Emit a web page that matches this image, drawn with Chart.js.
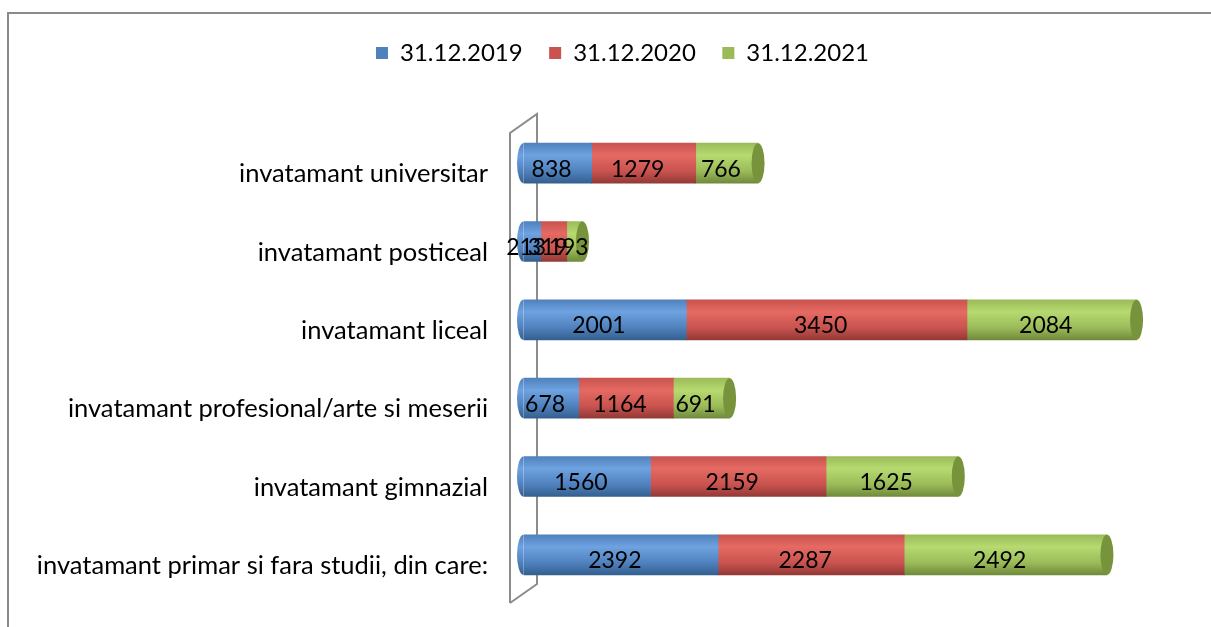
<!DOCTYPE html>
<html>
<head>
<meta charset="utf-8">
<script src="https://cdn.jsdelivr.net/npm/chart.js@4.4.1/dist/chart.umd.min.js"></script>
<style>
  html, body { margin: 0; padding: 0; background: #fff; overflow: hidden; }
  #wrap { width: 1211px; height: 627px; position: relative; }
</style>
</head>
<body>
<div id="wrap"><canvas id="edu-chart"></canvas></div>
<script>
// categories, top to bottom as in the picture
const categories = [
  'invatamant universitar',
  'invatamant posticeal',
  'invatamant liceal',
  'invatamant profesional/arte si meserii',
  'invatamant gimnazial',
  'invatamant primar si fara studii, din care:'
];
const seriesLabels = ['31.12.2019', '31.12.2020', '31.12.2021'];
const values2019 = [838, 213, 2001, 678, 1560, 2392];
const values2020 = [1279, 319, 3450, 1164, 2159, 2287];
const values2021 = [766, 193, 2084, 691, 1625, 2492];

const FONT = 'Lato';
const palette = [
  { base: '#4f81bd', light: '#6ea2e0', dark: '#34608f' },
  { base: '#c9534f', light: '#e56a63', dark: '#933936' },
  { base: '#9bbb59', light: '#b6da70', dark: '#708a3c' }
];
const capColor = '#77933c';

// vertical gradient so the bars look like cylinders
function cylinderFill(c, i) {
  const chart = c.chart;
  const y = chart.scales && chart.scales.y;
  if (!chart.chartArea || !y || c.dataIndex === undefined) return palette[i].base;
  const cy = y.getPixelForValue(c.dataIndex);
  const g = chart.ctx.createLinearGradient(0, cy - 20, 0, cy + 20);
  g.addColorStop(0, palette[i].base);
  g.addColorStop(0.3, palette[i].light);
  g.addColorStop(0.7, palette[i].base);
  g.addColorStop(1, palette[i].dark);
  return g;
}

// outer frame of the chart
const framePlugin = {
  id: 'frame',
  beforeDraw(chart) {
    const ctx = chart.ctx;
    ctx.save();
    ctx.fillStyle = '#fff';
    ctx.fillRect(0, 0, chart.width, chart.height);
    ctx.strokeStyle = '#8a8a8a';
    ctx.lineWidth = 2;
    ctx.strokeRect(8, 13, chart.width + 20, chart.height + 20);
    ctx.restore();
  }
};

// the thin 3d wall behind the category axis
const wallPlugin = {
  id: 'wall',
  beforeDatasetsDraw(chart) {
    const a = chart.chartArea;
    const ctx = chart.ctx;
    const l = a.left - 13.5, r = a.left + 13.5;
    ctx.save();
    ctx.strokeStyle = '#8c8c8c';
    ctx.lineWidth = 2;
    ctx.beginPath();
    ctx.moveTo(l, a.bottom + 9);
    ctx.lineTo(l, a.top + 9);
    ctx.lineTo(r, a.top - 10);
    ctx.lineTo(r, a.bottom - 10);
    ctx.lineTo(l, a.bottom + 9);
    ctx.stroke();
    ctx.restore();
  }
};

// rounded ends of the cylinders and the value labels
const cylinderPlugin = {
  id: 'cylinder',
  afterDatasetsDraw(chart) {
    const ctx = chart.ctx;
    const metas = chart.data.datasets.map((d, i) => chart.getDatasetMeta(i));
    const last = metas[metas.length - 1];
    ctx.save();
    categories.forEach((cat, i) => {
      const first = metas[0].data[i];
      const end = last.data[i];
      const h = first.height;
      // left end
      const g = ctx.createLinearGradient(0, first.y - h / 2, 0, first.y + h / 2);
      g.addColorStop(0, palette[0].base);
      g.addColorStop(0.3, palette[0].light);
      g.addColorStop(0.7, palette[0].base);
      g.addColorStop(1, palette[0].dark);
      ctx.fillStyle = g;
      ctx.beginPath();
      ctx.ellipse(first.base, first.y, 6.5, h / 2, 0, Math.PI / 2, Math.PI * 1.5);
      ctx.fill();
      // right cap
      ctx.fillStyle = capColor;
      ctx.beginPath();
      ctx.ellipse(end.x, end.y, 6.5, h / 2, 0, 0, Math.PI * 2);
      ctx.fill();
    });
    ctx.fillStyle = '#000';
    ctx.font = '23px ' + FONT;
    ctx.textAlign = 'center';
    ctx.textBaseline = 'middle';
    metas.forEach((meta, di) => {
      meta.data.forEach((el, i) => {
        const v = chart.data.datasets[di].data[i];
        ctx.fillText(String(v), (el.x + el.base) / 2 - 6, el.y + 6);
      });
    });
    ctx.restore();
  }
};

const eduChart = document.getElementById('edu-chart');
new Chart(eduChart, {
  type: 'bar',
  data: {
    labels: categories,
    datasets: [
      { label: seriesLabels[0], data: values2019, backgroundColor: c => cylinderFill(c, 0) },
      { label: seriesLabels[1], data: values2020, backgroundColor: c => cylinderFill(c, 1) },
      { label: seriesLabels[2], data: values2021, backgroundColor: c => cylinderFill(c, 2) }
    ]
  },
  options: {
    indexAxis: 'y',
    responsive: true,
    maintainAspectRatio: false,
    animation: false,
    devicePixelRatio: 1,
    barThickness: 40,
    layout: { padding: { left: 34, top: 14.5, right: 0, bottom: 33 } },
    plugins: {
      tooltip: { enabled: false },
      legend: {
        position: 'top',
        labels: {
          boxWidth: 12,
          boxHeight: 12,
          padding: 26.5,
          color: '#000',
          font: { family: FONT, size: 24 },
          generateLabels: chart => chart.data.datasets.map((d, i) => ({
            text: d.label,
            fillStyle: palette[i].base,
            strokeStyle: palette[i].base,
            lineWidth: 0,
            datasetIndex: i,
            hidden: false
          }))
        }
      }
    },
    scales: {
      x: {
        position: 'top',
        stacked: true,
        min: 0,
        max: 8450,
        grid: { display: false },
        border: { display: false },
        ticks: { display: false },
        afterFit: s => { s.height = 49; }
      },
      y: {
        stacked: true,
        grid: { display: false },
        border: { display: false },
        ticks: {
          color: '#000',
          padding: 27.5,
          labelOffset: 11,
          font: { family: FONT, size: 25.5 }
        },
        afterFit: s => {
          s.width = 489.5;
          s.paddingTop = 0;
          s.paddingBottom = 0;
        }
      }
    }
  },
  plugins: [framePlugin, wallPlugin, cylinderPlugin]
});
</script>
</body>
</html>
